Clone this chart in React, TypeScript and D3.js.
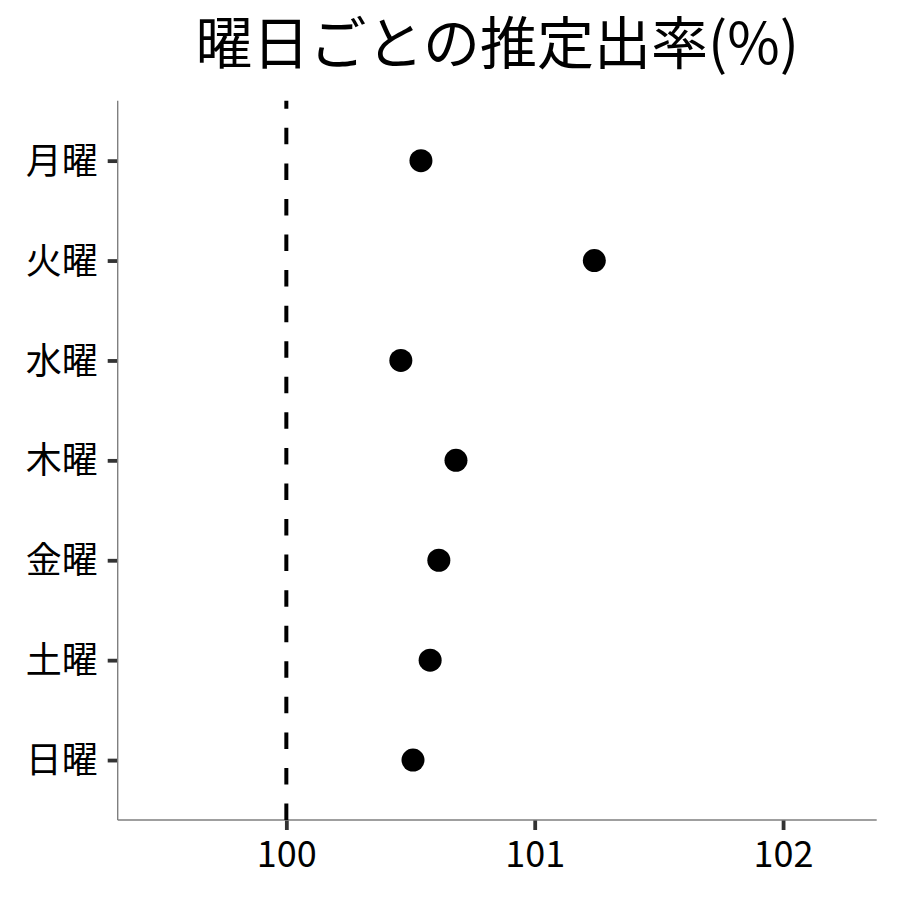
import React, { useEffect, useRef } from "react";
import * as d3 from "d3";

// 曜日ごとの推定出率(%)
const days = ["月曜", "火曜", "水曜", "木曜", "金曜", "土曜", "日曜"];
const rates = [100.542, 101.24, 100.461, 100.683, 100.614, 100.579, 100.51];
const xTicks = [100, 101, 102];
const refValue = 100;
const title = "曜日ごとの推定出率(%)";

const FONT = "'Noto Sans CJK JP', 'Noto Sans', sans-serif";

const App: React.FC = () => {
  const ref = useRef<SVGSVGElement>(null);

  useEffect(() => {
    const width = 900;
    const height = 900;
    const panel = { left: 117.7, right: 876.7, top: 100.7, bottom: 820 };

    const svg = d3.select(ref.current).attr("width", width).attr("height", height);
    svg.selectAll("*").remove();

    const x = d3
      .scaleLinear()
      .domain([99.321, 102.377])
      .range([panel.left, panel.right]);

    const y = d3
      .scalePoint<string>()
      .domain(days)
      .range([panel.top, panel.bottom])
      .padding(0.6);

    // title
    svg
      .append("text")
      .attr("x", (panel.left + panel.right) / 2)
      .attr("y", 64)
      .attr("text-anchor", "middle")
      .attr("font-family", FONT)
      .attr("font-size", 57)
      .attr("fill", "#000")
      .text(title);

    // x axis
    const gx = svg
      .append("g")
      .attr("transform", `translate(0,${panel.bottom})`)
      .call(d3.axisBottom(x).tickValues(xTicks).tickSize(10).tickPadding(11).tickFormat(d3.format("d")));
    gx.select(".domain").remove();
    gx.selectAll(".tick line").attr("stroke", "#333").attr("stroke-width", 3.8);
    gx.selectAll(".tick text")
      .attr("font-family", FONT)
      .attr("font-size", 36)
      .attr("fill", "#000")
      .attr("dy", "0.71em");

    // y axis
    const gy = svg
      .append("g")
      .attr("transform", `translate(${panel.left},0)`)
      .call(d3.axisLeft(y).tickSize(10).tickPadding(10));
    gy.select(".domain").remove();
    gy.selectAll(".tick line").attr("stroke", "#333").attr("stroke-width", 3.8);
    gy.selectAll(".tick text")
      .attr("font-family", FONT)
      .attr("font-size", 36)
      .attr("fill", "#000")
      .attr("dy", "0.35em");

    // axis lines
    svg
      .append("line")
      .attr("x1", panel.left)
      .attr("x2", panel.left)
      .attr("y1", panel.top)
      .attr("y2", panel.bottom)
      .attr("stroke", "#7f7f7f")
      .attr("stroke-width", 1.4);
    svg
      .append("line")
      .attr("x1", panel.left)
      .attr("x2", panel.right)
      .attr("y1", panel.bottom)
      .attr("y2", panel.bottom)
      .attr("stroke", "#7f7f7f")
      .attr("stroke-width", 1.4);

    // reference line at 100, dashed from the bottom up
    svg
      .append("line")
      .attr("x1", x(refValue))
      .attr("x2", x(refValue))
      .attr("y1", panel.bottom)
      .attr("y2", panel.top)
      .attr("stroke", "#000")
      .attr("stroke-width", 4)
      .attr("stroke-dasharray", "16.5 19.06");

    // points
    svg
      .append("g")
      .selectAll("circle")
      .data(days)
      .join("circle")
      .attr("cx", (_, i) => x(rates[i]))
      .attr("cy", (d) => y(d) ?? 0)
      .attr("r", 11.5)
      .attr("fill", "#000");
  }, []);

  return (
    <svg
      ref={ref}
      style={{ position: "absolute", left: 0, top: 0, background: "#fff" }}
    />
  );
};

export default App;
